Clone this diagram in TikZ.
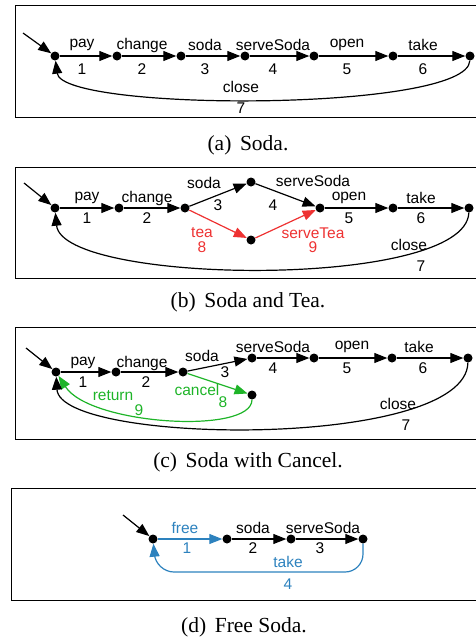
\documentclass[tikz,border=0pt]{standalone}
\usepackage{fontspec}
\setmainfont{Liberation Serif}
\newfontfamily\lsans{Liberation Sans}
\usetikzlibrary{arrows.meta}
\definecolor{myred}{RGB}{238,50,50}
\definecolor{mygreen}{RGB}{30,180,40}
\definecolor{myblue}{RGB}{45,130,190}
\begin{document}
\begin{tikzpicture}[x=1pt,y=-1pt,
 dot/.style={circle,fill=black,inner sep=0pt,minimum size=9pt},
 arr/.style={line width=1.2pt,-{Triangle[length=13pt,width=10pt]}},
 lbl/.style={inner sep=0pt,font=\lsans\fontsize{15.5}{17}\selectfont},
 captext/.style={inner sep=0pt,font=\fontsize{21.5}{24}\selectfont},
 frame/.style={line width=1pt}]
\useasboundingbox (0,0) rectangle (475,637);

% ---------------- (a) ----------------
\draw[frame] (480,5) -- (15,5) -- (15,117) -- (480,117);
\coordinate (sa) at (23,33);
\node[dot] (a1) at (55,56) {};
\node[dot] (a2) at (117,56) {};
\node[dot] (a3) at (181,56) {};
\node[dot] (a4) at (245,56) {};
\node[dot] (a5) at (314,56) {};
\node[dot] (a6) at (393,56) {};
\node[dot] (a7) at (470,56) {};
\draw[arr] (sa) -- (a1);
\draw[arr] (a1) -- (a2);
\draw[arr] (a2) -- (a3);
\draw[arr] (a3) -- (a4);
\draw[arr] (a4) -- (a5);
\draw[arr] (a5) -- (a6);
\draw[arr] (a6) -- (a7);
\draw[arr] (a7) .. controls (468,112) and (62,112) .. (a1);
\node[lbl] (la1) at (82,45) {pay};       \node[lbl] (na1) at (82,69) {1};
\node[lbl] (la2) at (142,45) {change};   \node[lbl] (na2) at (142,69) {2};
\node[lbl] (la3) at (205,45) {soda};     \node[lbl] (na3) at (205,69) {3};
\node[lbl] (la4) at (273,45) {serveSoda};\node[lbl] (na4) at (273,69) {4};
\node[lbl] (la5) at (347,45) {open};     \node[lbl] (na5) at (347,69) {5};
\node[lbl] (la6) at (423,45) {take};     \node[lbl] (na6) at (423,69) {6};
\node[lbl] (la7) at (241,87) {close};    \node[lbl] (na7) at (241,108) {7};
\node[captext] (capa) at (248,145) {(a)\hspace{0.4em}Soda.};

% ---------------- (b) ----------------
\draw[frame] (480,167) -- (15,167) -- (15,278) -- (480,278);
\coordinate (sb) at (24,183);
\node[dot] (b1) at (55,208) {};
\node[dot] (b2) at (119,208) {};
\node[dot] (b3) at (185,208) {};
\node[dot] (b4) at (251,182) {};
\node[dot] (b5) at (320,208) {};
\node[dot] (b6) at (393,208) {};
\node[dot] (b7) at (469,208) {};
\node[dot] (b8) at (251,240) {};
\draw[arr] (sb) -- (b1);
\draw[arr] (b1) -- (b2);
\draw[arr] (b2) -- (b3);
\draw[arr] (b3) -- (b4);
\draw[arr] (b4) -- (b5);
\draw[arr] (b5) -- (b6);
\draw[arr] (b6) -- (b7);
\draw[arr,myred] (b3) -- (b8);
\draw[arr,myred] (b8) -- (b5);
\draw[arr] (b7) .. controls (466,290) and (62,285) .. (b1);
\node[lbl] (lb1) at (87,198) {pay};        \node[lbl] (nb1) at (87,218) {1};
\node[lbl] (lb2) at (147,198) {change};    \node[lbl] (nb2) at (147,218) {2};
\node[lbl] (lb3) at (204,183) {soda};      \node[lbl] (nb3) at (218,205) {3};
\node[lbl] (lb4) at (313,181) {serveSoda}; \node[lbl] (nb4) at (273,205) {4};
\node[lbl] (lb5) at (349,198) {open};      \node[lbl] (nb5) at (349,218) {5};
\node[lbl] (lb6) at (421,198) {take};      \node[lbl] (nb6) at (421,218) {6};
\node[lbl] (lb7) at (409,245) {close};     \node[lbl] (nb7) at (421,266) {7};
\node[lbl,myred] (lb8) at (202,233) {tea};      \node[lbl,myred] (nb8) at (202,247) {8};
\node[lbl,myred] (lb9) at (313,233) {serveTea}; \node[lbl,myred] (nb9) at (313,247) {9};
\node[captext] (capb) at (248,302) {(b)\hspace{0.4em}Soda and Tea.};

% ---------------- (c) ----------------
\draw[frame] (480,327) -- (15,327) -- (15,439) -- (480,439);
\coordinate (sc) at (26,348);
\node[dot] (c1) at (56,372) {};
\node[dot] (c2) at (116,372) {};
\node[dot] (c3) at (183,372) {};
\node[dot] (c4) at (252,358) {};
\node[dot] (c5) at (314,358) {};
\node[dot] (c6) at (392,358) {};
\node[dot] (c7) at (468,358) {};
\node[dot] (c8) at (252,395) {};
\draw[arr] (sc) -- (c1);
\draw[arr] (c1) -- (c2);
\draw[arr] (c2) -- (c3);
\draw[arr] (c3) -- (c4);
\draw[arr] (c4) -- (c5);
\draw[arr] (c5) -- (c6);
\draw[arr] (c6) -- (c7);
\draw[arr,mygreen] (c3) -- (c8);
\draw[arr,mygreen] (c8) .. controls (252,435) and (90,425) .. (c1);
\draw[arr] (c7) .. controls (466,450) and (60,445) .. (c1);
\node[lbl] (lc1) at (83,363) {pay};        \node[lbl] (nc1) at (83,382) {1};
\node[lbl] (lc2) at (142,363) {change};    \node[lbl] (nc2) at (146,382) {2};
\node[lbl] (lc3) at (202,356) {soda};      \node[lbl] (nc3) at (225,372) {3};
\node[lbl] (lc4) at (273,347) {serveSoda}; \node[lbl] (nc4) at (273,368) {4};
\node[lbl] (lc5) at (352,347) {open};      \node[lbl] (nc5) at (347,368) {5};
\node[lbl] (lc6) at (419,347) {take};      \node[lbl] (nc6) at (423,368) {6};
\node[lbl] (lc7) at (398,404) {close};     \node[lbl] (nc7) at (406,425) {7};
\node[lbl,mygreen] (lc8) at (197,390) {cancel}; \node[lbl,mygreen] (nc8) at (223,402) {8};
\node[lbl,mygreen] (lc9) at (113,396) {return}; \node[lbl,mygreen] (nc9) at (139,410) {9};
\node[captext] (capc) at (248,462) {(c)\hspace{0.4em}Soda with Cancel.};

% ---------------- (d) ----------------
\draw[frame] (480,488) -- (11,488) -- (11,600) -- (480,600);
\coordinate (sd) at (123,515);
\node[dot] (d1) at (153,539) {};
\node[dot] (d2) at (227,539) {};
\node[dot] (d3) at (291,539) {};
\node[dot] (d4) at (363,539) {};
\draw[arr] (sd) -- (d1);
\draw[arr,myblue] (d1) -- (d2);
\draw[arr] (d2) -- (d3);
\draw[arr] (d3) -- (d4);
\draw[arr,myblue,rounded corners=18pt] (d4) -- (363,572) -- (156,572) -- (d1);
\node[lbl,myblue] (ld1) at (185,528) {free}; \node[lbl,myblue] (nd1) at (187,548) {1};
\node[lbl] (ld2) at (253,528) {soda};        \node[lbl] (nd2) at (253,548) {2};
\node[lbl] (ld3) at (323,528) {serveSoda};   \node[lbl] (nd3) at (320,548) {3};
\node[lbl,myblue] (ld4) at (288,562) {take}; \node[lbl,myblue] (nd4) at (288,584) {4};
\node[captext] (capd) at (244,627) {(d)\hspace{0.4em}Free Soda.};
\end{tikzpicture}
\end{document}
